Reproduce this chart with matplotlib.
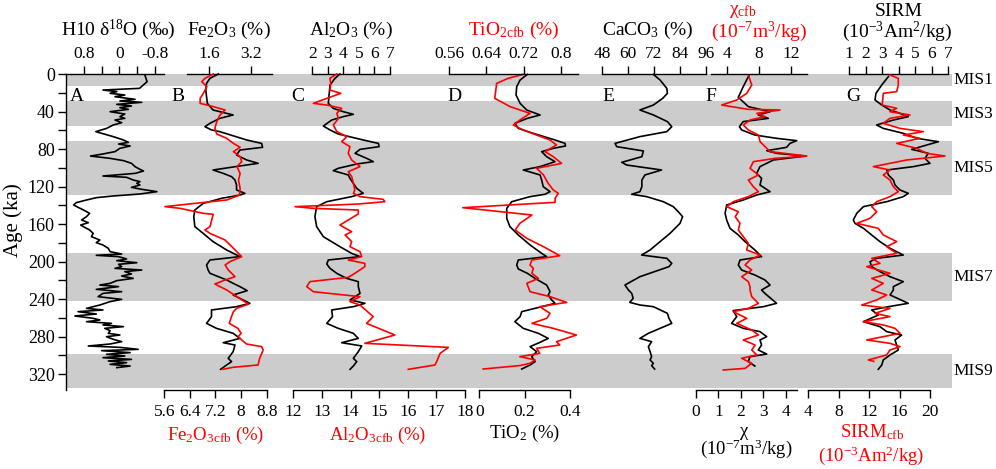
import matplotlib
matplotlib.use("Agg")
import matplotlib.pyplot as plt
from matplotlib.ticker import MultipleLocator

plt.rcParams["font.family"] = ["Liberation Serif", "DejaVu Serif"]
plt.rcParams["mathtext.fontset"] = "custom"
plt.rcParams["mathtext.rm"] = "Liberation Serif"
plt.rcParams["mathtext.it"] = "Liberation Serif:italic"
plt.rcParams["mathtext.bf"] = "Liberation Serif:bold"

# ---- data (age in ka) ----
mis_names = ["MIS1", "MIS3", "MIS5", "MIS7", "MIS9"]
mis_start = [0, 29.0, 71.0, 190.5, 299.0]
mis_end = [12.8, 55.5, 129.1, 241.8, 335.3]

d18o_age = [1, 8.2, 15.3, 17.1, 18.8, 20.6, 22.4, 24.2, 27, 28.8,
            30.2, 32.4, 34.1, 35.9, 37.7, 40.2, 42.7, 45.5, 47.3, 49.1,
            51.9, 54.4, 58, 61.5, 63.3, 66.8, 70.4, 72.9, 74.7, 76.8,
            79.3, 82.8, 85.3, 87.5, 90, 92.4, 95.3, 98.8, 101.7, 103.5,
            106, 108.8, 110.2, 113.1, 114.8, 116.6, 118.4, 120.9, 123, 125.5,
            128, 130.1, 131.9, 134.4, 137.2, 139.7, 142.2, 145, 148.6, 152.2,
            155.7, 158.6, 161.1, 163.6, 166.4, 170, 173.5, 177.1, 179.9, 182.4,
            186, 189.5, 192, 193.4, 194.8, 197.3, 199.1, 201.3, 203, 205.5,
            207.3, 209.1, 210.8, 213.3, 215.5, 218, 220.4, 223.3, 225.1, 226.8,
            229.7, 232.2, 234, 237.5, 240.4, 242.8, 246.4, 250, 251.7, 253.5,
            256, 258.1, 260.6, 262.4, 264.2, 266, 267.7, 269.5, 271.3, 273.8,
            276.6, 278.4, 280.2, 283, 285.5, 288, 290.1, 291.6, 293.7, 295.1,
            297.2, 299, 300.8, 302.6, 304.4, 306.1, 307.9, 309.7, 311.5, 313.2]
d18o = [-0.57, -0.62, -0.45, 0.37, 0.06, 0.21, -0.12, 0.10, -0.35, -0.01,
        -0.50, 0.06, -0.27, -0.01, -0.20, 0.21, -0.12, -0.01, -0.12, 0.10,
        -0.05, 0.14, 0.29, 0.53, 0.40, 0.14, -0.09, -0.20, 0.02, -0.24,
        -0.01, 0.10, 0.37, 0.65, 0.21, -0.09, -0.27, -0.35, -0.46, -0.54,
        -0.35, 0.37, -0.16, -0.31, -0.46, -0.39, -0.46, -0.27, -0.50, -0.84,
        -0.46, 0.14, 0.52, 0.74, 0.97, 1.03, 0.93, 0.81, 0.67, 0.74,
        0.85, 0.70, 0.87, 0.78, 0.67, 0.59, 0.63, 0.44, 0.52, 0.37,
        0.25, 0.21, -0.05, 0.52, 0.02, -0.16, 0.06, -0.39, 0.02, -0.05,
        0.10, -0.50, -0.12, -0.27, -0.05, -0.31, 0.06, 0.21, 0.44, 0.02,
        0.52, -0.05, 0.37, 0.48, -0.05, 0.21, 0.44, 0.74, 0.37, 0.93,
        0.52, 1.00, 0.59, 0.44, 0.74, 0.18, 0.37, -0.09, 0.33, 0.21,
        0.25, -0.01, 0.29, 0.14, -0.05, 0.21, 0.70, -0.01, -0.42, 0.40,
        -0.24, 0.29, -0.12, 0.37, -0.27, 0.25, -0.16, 0.21, -0.24, 0.06]

fe_age = [0, 4.6, 10, 17, 24.2, 31.3, 38.4, 43.7, 47.3, 52.6,
          56.2, 59.7, 61.5, 70.4, 74, 78.2, 81.1, 86.4, 91.7, 95.3,
          98.1, 102.4, 106, 109.5, 113.1, 118.4, 123.7, 127.3, 129.1, 132.6,
          138, 145.1, 152.2, 162.8, 170, 178.8, 187.7, 194.8, 198.4, 203.7,
          209.1, 212.6, 219.7, 223.3, 226.8, 231.1, 235.7, 244.6, 248.2, 251.7,
          258.8, 266, 271.3, 276.6, 282, 286.6, 289.1, 296.2, 303.3, 306.8,
          310.4, 315]
fe = [1.96, 1.64, 1.51, 1.48, 1.51, 1.54, 1.76, 2.53, 2.02, 1.64,
      1.45, 1.70, 2.02, 3.05, 3.62, 3.66, 2.79, 2.66, 3.05, 3.49,
      2.79, 1.76, 2.15, 2.47, 2.60, 2.66, 2.66, 2.98, 2.79, 2.09,
      1.38, 1.06, 1.02, 1.06, 1.38, 1.76, 2.28, 2.79, 1.64, 1.51,
      1.57, 1.64, 2.28, 2.53, 2.79, 3.07, 2.53, 3.17, 2.66, 1.70,
      1.70, 1.51, 1.89, 2.53, 2.79, 2.15, 2.60, 2.53, 2.34, 2.47,
      2.28, 2.05]

fecfb_age = [0, 4.6, 8.2, 13.5, 20.6, 26, 31.3, 34.8, 38.4, 43.7,
             50.8, 58, 64, 68.6, 74, 78.2, 82.8, 88.2, 93.5, 98.8,
             106, 113.1, 122, 129.1, 134.4, 139.7, 141.5, 143.3, 148.6, 149.7,
             155.7, 162.8, 166.4, 170, 177.1, 185.9, 194.8, 200.2, 203.7, 209.1,
             216.2, 219.7, 224, 230.4, 237.5, 245.5, 250, 253.5, 258.8, 266,
             271.3, 276.6, 280.2, 283.7, 288, 290.8, 294.4, 303.3, 310.4, 312.9,
             315]
fecfb = [7.13, 6.87, 6.77, 6.93, 6.82, 6.72, 6.72, 7.13, 7.50, 7.34,
         7.24, 7.18, 7.24, 7.55, 7.76, 7.97, 7.76, 7.97, 8.02, 7.87,
         7.97, 7.92, 7.97, 7.95, 7.55, 6.09, 5.62, 6.09, 6.82, 7.13,
         7.08, 7.03, 6.87, 7.03, 7.50, 7.76, 8.02, 7.65, 7.50, 7.60,
         7.81, 7.50, 7.18, 7.55, 7.87, 8.23, 7.86, 7.76, 7.70, 7.63,
         7.90, 8.00, 7.91, 8.02, 8.17, 8.64, 8.69, 8.58, 8.53, 7.74,
         7.44]

al_age = [0, 4.6, 11.7, 20.6, 31.3, 36.6, 40.2, 43, 45.5, 49.1,
          55.5, 59.7, 64, 70.4, 74, 77.5, 80.4, 84.6, 90, 93.5,
          96, 100.6, 103.1, 107.7, 111.3, 116.6, 122, 127.3, 130.8, 136.2,
          141.5, 152.2, 162.8, 173.5, 184.2, 191.3, 194.8, 198.4, 202.7, 207.3,
          212.6, 218, 221.5, 226.8, 234, 241, 244.6, 248.2, 251.7, 258.8,
          266, 271.3, 276.6, 282, 286.6, 290.1, 296.2, 303.3, 306.8, 311.5,
          315]
al = [3.78, 3.46, 3.14, 3.09, 3.03, 3.35, 3.99, 4.64, 3.99, 3.25,
      2.71, 3.14, 3.67, 5.28, 6.25, 6.30, 5.07, 4.75, 5.50, 5.93,
      4.86, 3.67, 3.35, 4.32, 4.42, 4.64, 4.86, 5.28, 4.53, 2.93,
      2.28, 2.17, 2.28, 2.71, 3.78, 4.53, 5.07, 3.03, 2.93, 3.14,
      3.57, 4.21, 4.96, 4.96, 5.07, 4.43, 5.39, 4.64, 3.25, 3.30,
      2.93, 3.67, 4.64, 4.96, 3.89, 5.18, 4.96, 4.64, 4.86, 4.64,
      4.43]

alcfb_age = [0, 4.6, 10, 17.1, 20.6, 26, 31.3, 33.1, 36.6, 42,
             47.3, 54.4, 61.5, 66.8, 72.2, 77.5, 84.6, 91.7, 98.8, 104.2,
             109.5, 116.6, 123.7, 127.3, 130.8, 133.7, 136.2, 138.7, 141.5, 143.3,
             145.1, 149.3, 161.1, 168.2, 171.7, 178.8, 184.2, 189.5, 194.8, 198.4,
             202, 205.5, 212.6, 216.9, 221.5, 226.8, 232.2, 237.5, 242.8, 246.4,
             258.8, 266, 278.4, 287.3, 291.6, 298, 306.8, 310.4, 315]
alcfb = [13.52, 13.28, 13.31, 13.28, 13.66, 13.17, 12.70, 13.17, 13.69, 13.52,
         13.58, 13.40, 13.52, 13.87, 13.69, 13.98, 13.92, 14.04, 14.33, 13.92,
         14.04, 14.10, 14.15, 14.10, 14.33, 15.14, 15.20, 14.27, 12.06, 12.70,
         14.27, 14.27, 13.63, 14.04, 13.81, 14.04, 13.98, 14.33, 14.39, 13.92,
         14.50, 14.50, 14.15, 13.92, 12.58, 12.47, 12.70, 14.33, 13.98, 14.33,
         14.79, 14.56, 15.55, 14.50, 17.42, 17.13, 17.01, 16.95, 16.02]

ti_age = [0.4, 6.4, 13.5, 22.4, 31.3, 38.4, 43.7, 47.3, 52.6, 58,
          63.3, 70.4, 74, 76.8, 79.3, 82.8, 88.2, 93.5, 98.8, 102.4,
          107.7, 113.1, 120.2, 125.5, 128.3, 130.8, 136.2, 143.3, 154, 162.8,
          171.7, 182.4, 191.3, 194.8, 198.4, 203.7, 208, 212.6, 218, 225.1,
          232.2, 235.7, 241, 244.6, 248.2, 253.5, 258.8, 264.2, 271.3, 276.6,
          282, 286.2, 290.8, 296.2, 301.5, 306.8, 310.4, 314.7]
ti = [0.212, 0.180, 0.165, 0.162, 0.180, 0.209, 0.268, 0.212, 0.157, 0.172,
      0.238, 0.334, 0.378, 0.380, 0.326, 0.275, 0.297, 0.334, 0.268, 0.194,
      0.268, 0.275, 0.282, 0.312, 0.290, 0.224, 0.143, 0.121, 0.121, 0.135,
      0.172, 0.224, 0.275, 0.297, 0.172, 0.165, 0.172, 0.212, 0.246, 0.297,
      0.312, 0.304, 0.319, 0.334, 0.275, 0.187, 0.180, 0.157, 0.194, 0.260,
      0.304, 0.268, 0.224, 0.253, 0.231, 0.246, 0.224, 0.187]

ticfb_age = [0.4, 4.6, 10, 26, 34.8, 42, 49.1, 54.4, 59.7, 65.1,
             70.4, 75.7, 82.8, 88.2, 95.3, 100.6, 107.7, 116.6, 123.7, 127.3,
             132.6, 136.9, 142.6, 150.4, 159.3, 166.4, 175.3, 184.2, 193.8, 198.4,
             203.7, 207.3, 212.6, 218, 223.3, 232.2, 237.5, 243.6, 248.2, 255.3,
             260.6, 266, 271.3, 278.4, 285.5, 289.1, 292.6, 298, 301.5, 305,
             308.6, 311, 314.7]
ticfb = [0.719, 0.687, 0.662, 0.658, 0.691, 0.734, 0.712, 0.698, 0.719, 0.748,
         0.777, 0.791, 0.766, 0.784, 0.802, 0.748, 0.763, 0.773, 0.784, 0.795,
         0.788, 0.788, 0.589, 0.738, 0.712, 0.702, 0.727, 0.763, 0.798, 0.738,
         0.734, 0.741, 0.738, 0.752, 0.727, 0.734, 0.777, 0.813, 0.755, 0.777,
         0.770, 0.738, 0.784, 0.834, 0.791, 0.798, 0.748, 0.755, 0.712, 0.745,
         0.734, 0.712, 0.633]

ca_age = [0.4, 6.4, 15.3, 20.6, 26, 33.1, 38.4, 43.7, 50.8, 56.2,
          61.5, 66.8, 74, 77.5, 82.1, 88.2, 94.2, 97.1, 102.4, 107.7,
          113.1, 120.2, 125.5, 128.3, 130.8, 136.2, 141.5, 146.9, 152.2, 159.3,
          170, 178.8, 187.7, 193.1, 196.6, 202, 205.5, 216.2, 225.1, 230.4,
          234, 239.3, 243.6, 246.4, 248.2, 255.3, 260.6, 266, 271.3, 276.6,
          282, 285.5, 290.8, 296.2, 301.5, 305, 308.6, 311.1, 314.7]
caco3 = [71.7, 74.8, 77.9, 78.2, 76.0, 71.7, 65.5, 71.7, 78.2, 80.2,
         77.9, 65.5, 54.0, 54.8, 67.1, 66.4, 57.1, 59.4, 75.5, 67.8,
         66.4, 66.4, 65.5, 61.7, 68.6, 76.3, 80.9, 83.2, 85.2, 84.0,
         79.4, 74.8, 70.2, 66.3, 77.9, 80.2, 78.9, 65.5, 58.6, 60.2,
         61.7, 62.4, 60.8, 65.5, 71.7, 78.2, 78.9, 80.2, 74.8, 69.4,
         65.5, 70.9, 69.4, 70.2, 70.9, 70.2, 71.7, 70.9, 72.3]

chi_age = [1, 13.5, 24.9, 34.8, 40.2, 43.7, 47.3, 50.8, 56.2, 59.7,
           65.1, 68.6, 71.1, 74, 78.2, 81.8, 84.6, 87.5, 91.7, 98.8,
           106, 111.3, 118.4, 125.5, 129.1, 134.4, 139.7, 148.6, 155.7, 164.6,
           171.7, 178.8, 187.7, 194.8, 198.4, 203.7, 209.1, 214.4, 219.7, 225.1,
           230.4, 234, 244.6, 248.2, 252.4, 258.8, 266, 271.3, 274.8, 280.2,
           283.7, 289.1, 294.4, 298.7, 301.5, 306.8, 311.5]
chi = [2.38, 2.11, 1.89, 2.34, 3.31, 2.78, 3.23, 2.11, 1.94, 2.04,
       2.63, 3.60, 4.50, 4.20, 4.05, 3.16, 3.60, 4.90, 3.46, 2.86,
       2.71, 2.93, 2.86, 3.31, 2.71, 2.11, 1.37, 1.30, 1.37, 1.52,
       1.89, 2.19, 2.63, 2.93, 1.97, 1.89, 2.04, 2.63, 3.08, 3.31,
       2.93, 3.08, 3.60, 3.01, 1.66, 1.82, 1.59, 2.11, 2.86, 3.16,
       2.86, 2.93, 2.78, 3.16, 2.41, 2.34, 2.63]

chicfb_age = [1, 11.7, 20.6, 27.7, 33.1, 37.7, 38.4, 42, 45.5, 49.1,
              54.4, 59.7, 65.1, 72.2, 77.5, 82.8, 87.5, 90, 93.5, 97.1,
              100.6, 107.7, 113.1, 120.2, 125.5, 130.8, 136.2, 141.5, 146.9, 152.2,
              159.3, 166.4, 173.5, 180.6, 187.7, 193.1, 198.4, 203.7, 209.1, 216.2,
              221.5, 226.8, 230.4, 237.5, 244.6, 250, 253.5, 260.6, 266, 273.1,
              278.4, 283.7, 289.1, 294.4, 299.7, 303.3, 308.6, 314, 315.7]
chicfb = [6.65, 7.08, 6.45, 5.19, 3.30, 6.65, 10.65, 7.71, 8.76, 6.86,
          6.02, 6.65, 7.92, 8.13, 8.76, 9.39, 14.02, 10.02, 7.28, 7.08,
          6.86, 7.92, 6.65, 7.28, 7.92, 6.65, 4.76, 3.92, 5.39, 5.00,
          5.60, 5.39, 6.02, 6.65, 6.45, 8.13, 6.86, 6.24, 7.08, 5.81,
          6.65, 6.86, 6.86, 7.08, 7.92, 6.65, 4.76, 6.45, 5.19, 7.08,
          7.92, 6.02, 7.50, 7.08, 7.71, 5.81, 7.08, 6.24, 3.49]

sirm_age = [2.8, 11.7, 20.6, 27.7, 33.1, 38.4, 42, 45.5, 49.1, 54.4,
            58, 63.3, 68.6, 72.2, 76.8, 80.4, 84.6, 90, 95.3, 98.8,
            102.4, 107.7, 113.1, 118.4, 123.7, 127.3, 130.8, 136.2, 141.5, 148.6,
            155.7, 159.3, 164.6, 171.7, 178.8, 185.9, 193.1, 196.6, 200.2, 205.5,
            210.8, 216.2, 221.5, 226.8, 230.4, 235.7, 244.6, 248.2, 251.7, 257.1,
            264.2, 269.5, 274.8, 278.4, 283.7, 289.1, 294.4, 299.7, 305, 310.4,
            315]
sirm = [3.38, 2.98, 2.63, 2.57, 2.98, 3.48, 4.08, 4.58, 3.68, 2.67,
        3.07, 4.28, 5.09, 6.40, 5.49, 4.79, 5.79, 5.59, 5.89, 4.89,
        3.28, 3.38, 3.68, 3.78, 4.08, 4.58, 4.28, 3.28, 1.87, 1.47,
        1.26, 1.36, 1.87, 2.37, 2.87, 3.48, 4.28, 2.67, 2.27, 2.37,
        2.87, 3.48, 4.28, 3.68, 3.68, 3.48, 4.58, 3.38, 2.37, 2.77,
        1.87, 2.87, 3.28, 4.18, 3.78, 3.88, 3.98, 3.48, 3.07, 2.98,
        2.77]

sirmcfb_age = [1, 4.6, 11.7, 18.8, 20.6, 26, 33.1, 36.6, 40.2, 43.7,
               47.3, 52.6, 58, 61.5, 65.1, 68.6, 74, 79.3, 84.6, 87.5,
               91.7, 98.8, 102.4, 107.7, 113.1, 120.2, 125.5, 130.8, 136.2, 141.5,
               146.9, 154, 159.3, 164.6, 171.7, 178.8, 184.2, 191.3, 196.6, 202,
               205.5, 212.6, 218, 223.3, 230.4, 235.7, 241, 246.4, 250, 255.3,
               258.8, 264.2, 267.7, 271.3, 276.6, 283.7, 287.3, 290.8, 294.4, 299.7,
               305, 306.5]
sirmcfb = [14.74, 15.83, 15.83, 15.62, 13.86, 13.80, 13.70, 15.62, 14.74, 17.37,
           14.74, 13.86, 16.06, 19.12, 16.50, 18.68, 15.62, 18.25, 19.56, 21.97,
           16.94, 12.55, 14.74, 13.86, 14.74, 15.18, 15.83, 14.74, 12.99, 12.34,
           12.99, 12.11, 10.36, 13.20, 13.86, 15.62, 14.30, 15.62, 12.34, 13.42,
           11.68, 14.74, 12.34, 13.86, 12.34, 14.30, 12.99, 11.02, 14.74, 12.77,
           14.74, 11.23, 13.86, 15.40, 16.06, 11.68, 14.74, 16.06, 14.74, 14.30,
           11.89, 12.60]

# ---- layout (figure pixels) ----
RED = "#ff0000"
GRAY = "#cccccc"
W, H = 996, 469
TOP, BOT = 74, 390
AGE_MAX = (BOT - TOP) / 0.9375
TICK_FS = 12.5
TITLE_FS = 14

fig = plt.figure(figsize=(W / 100, H / 100), dpi=100)


def fx(px):
    return px / W


def fy(py):
    return 1 - py / H


# background with MIS bands and the age axis
bg = fig.add_axes([fx(66), fy(BOT), fx(952 - 66), (BOT - TOP) / H])
bg.set_xlim(0, 1)
bg.set_ylim(AGE_MAX, 0)
for a0, a1 in zip(mis_start, mis_end):
    bg.axhspan(a0, a1, color=GRAY, lw=0)
for s in ["top", "right", "bottom"]:
    bg.spines[s].set_visible(False)
bg.spines["left"].set_linewidth(1)
bg.set_xticks([])
bg.yaxis.set_major_locator(MultipleLocator(40))
bg.yaxis.set_minor_locator(MultipleLocator(20))
bg.tick_params(axis="y", which="both", direction="out", length=6, width=1,
               labelsize=13, pad=2)
bg.set_yticks(range(0, 321, 40))
fig.text(fx(13), fy(220), "Age (ka)", rotation=90, ha="center", va="center",
         fontsize=15)

for name, a0, a1 in zip(mis_names, mis_start, mis_end):
    fig.text(fx(953), fy(TOP + 0.9375 * (a0 + a1) / 2), name,
             ha="left", va="center", fontsize=12.5)


def series_axes(x0, x1, xlim, ticks, labels, side):
    ax = fig.add_axes([fx(x0), fy(BOT), (x1 - x0) / W, (BOT - TOP) / H])
    ax.set_xlim(*xlim)
    ax.set_ylim(AGE_MAX, 0)
    ax.patch.set_visible(False)
    for s in ax.spines.values():
        s.set_visible(False)
    ax.spines[side].set_visible(True)
    ax.spines[side].set_linewidth(1)
    ax.set_yticks([])
    ax.xaxis.set_ticks_position(side)
    ax.set_xticks(ticks)
    ax.set_xticklabels(labels)
    ax.tick_params(axis="x", direction="out", length=6, width=1,
                   labelsize=TICK_FS, pad=3 if side == "top" else 4)
    return ax


def draw(ax, x, age, color):
    ax.plot(x, age, color=color, lw=1.2, clip_on=False)


# A: d18O
ax = series_axes(66, 164, (1.2, -1.0), [0.8, 0.4, 0, -0.4, -0.8],
                 ["0.8", "", "0", "", "-0.8"], "top")
draw(ax, d18o, d18o_age, "black")

# B: Fe2O3
ax = series_axes(187, 272, (0.76, 4.02), [1.6, 3.2], ["1.6", "3.2"], "top")
draw(ax, fe, fe_age, "black")
ax = series_axes(164.3, 266.7, (5.6, 8.8), [5.6, 6.4, 7.2, 8, 8.8],
                 ["5.6", "6.4", "7.2", "8", "8.8"], "bottom")
draw(ax, fecfb, fecfb_age, RED)

# C: Al2O3
ax = series_axes(312.3, 390, (2, 7), [2, 3, 4, 5, 6, 7],
                 ["2", "3", "4", "5", "6", "7"], "top")
draw(ax, al, al_age, "black")
ax = series_axes(293.3, 465, (12, 18), list(range(12, 19)),
                 [str(v) for v in range(12, 19)], "bottom")
draw(ax, alcfb, alcfb_age, RED)

# D: TiO2
ax = series_axes(479.3, 570, (0, 0.4), [0, 0.2, 0.4], ["0", "0.2", "0.4"], "bottom")
draw(ax, ti, ti_age, "black")
ax = series_axes(449.3, 578.3, (0.56, 0.838), [0.56, 0.64, 0.72, 0.8],
                 ["0.56", "0.64", "0.72", "0.8"], "top")
draw(ax, ticfb, ticfb_age, RED)

# E: CaCO3
ax = series_axes(602, 706, (48, 96), [48, 60, 72, 84, 96],
                 ["48", "60", "72", "84", "96"], "top")
draw(ax, caco3, ca_age, "black")

# F: chi
ax = series_axes(696, 796.7, (0, 4.5), [0, 1, 2, 3, 4],
                 ["0", "1", "2", "3", "4"], "bottom")
draw(ax, chi, chi_age, "black")
ax = series_axes(711, 806.7, (1.95, 14.0), [4, 8, 12], ["4", "8", "12"], "top")
draw(ax, chicfb, chicfb_age, RED)

# G: SIRM
ax = series_axes(849, 948.3, (1, 7), [1, 2, 3, 4, 5, 6, 7],
                 ["1", "2", "3", "4", "5", "6", "7"], "top")
draw(ax, sirm, sirm_age, "black")
ax = series_axes(808.3, 930, (4, 20), [4, 8, 12, 16, 20],
                 ["4", "8", "12", "16", "20"], "bottom")
draw(ax, sirmcfb, sirmcfb_age, RED)

# panel letters
for letter, px in zip("ABCDEFG", [77, 178, 298, 454, 608, 711, 853]):
    fig.text(fx(px), fy(96), letter, ha="center", va="center", fontsize=14)

# top titles
fig.text(fx(118), fy(30), "H10 δ$^{18}$O (‰)", ha="center", va="center", fontsize=TITLE_FS)
fig.text(fx(229), fy(30), "Fe$_2$O$_3$ (%)", ha="center", va="center", fontsize=TITLE_FS)
fig.text(fx(351), fy(30), "Al$_2$O$_3$ (%)", ha="center", va="center", fontsize=TITLE_FS)
fig.text(fx(514), fy(30), r"TiO$_{2\mathrm{cfb}}$ (%)", ha="center", va="center",
         fontsize=TITLE_FS, color=RED)
fig.text(fx(648), fy(30), "CaCO$_3$ (%)", ha="center", va="center", fontsize=TITLE_FS)
fig.text(fx(743), fy(12), r"χ$_{\mathrm{cfb}}$", ha="center", va="center",
         fontsize=TITLE_FS, color=RED)
fig.text(fx(759), fy(32), "(10$^{-7}$m$^3$/kg)", ha="center", va="center",
         fontsize=TITLE_FS, color=RED)
fig.text(fx(899), fy(12), "SIRM", ha="center", va="center", fontsize=TITLE_FS)
fig.text(fx(897), fy(32), "(10$^{-3}$Am$^2$/kg)", ha="center", va="center",
         fontsize=TITLE_FS)

# bottom titles
BOT_FS = 13.5
fig.text(fx(216), fy(435), r"Fe$_2$O$_{3\mathrm{cfb}}$ (%)", ha="center", va="center",
         fontsize=BOT_FS, color=RED)
fig.text(fx(378), fy(435), r"Al$_2$O$_{3\mathrm{cfb}}$ (%)", ha="center", va="center",
         fontsize=BOT_FS, color=RED)
fig.text(fx(525), fy(433), "TiO$_2$ (%)", ha="center", va="center", fontsize=BOT_FS)
fig.text(fx(744), fy(431), "χ", ha="center", va="center", fontsize=BOT_FS)
fig.text(fx(746), fy(449), "(10$^{-7}$m$^3$/kg)", ha="center", va="center",
         fontsize=BOT_FS)
fig.text(fx(872), fy(432), r"SIRM$_{\mathrm{cfb}}$", ha="center", va="center",
         fontsize=BOT_FS, color=RED)
fig.text(fx(871), fy(456), "(10$^{-3}$Am$^2$/kg)", ha="center", va="center",
         fontsize=BOT_FS, color=RED)

fig.savefig("out.png", dpi=100)
